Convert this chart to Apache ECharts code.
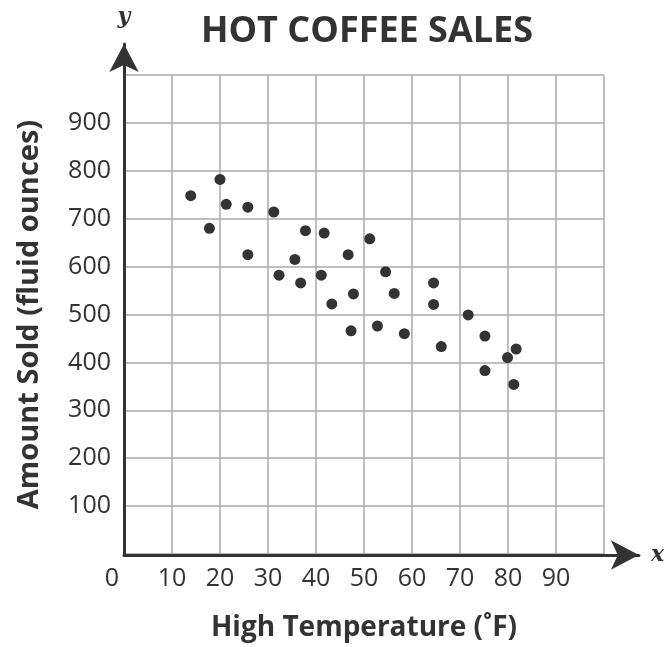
<!DOCTYPE html>
<html>
<head>
<meta charset="utf-8">
<script src="https://cdn.jsdelivr.net/npm/echarts@6/dist/echarts.min.js"></script>
<style>
  html, body { margin: 0; padding: 0; background: #fff; }
  #chart { width: 667px; height: 647px; }
</style>
</head>
<body>
<div id="chart"></div>
<script>
// high temperature (F) and amount sold (fl oz)
const temps = [13.9, 20, 21.3, 25.8, 31.2, 17.8, 37.8, 41.7, 51.2, 25.8,
  46.7, 35.6, 32.3, 41.1, 36.8, 47.8, 43.3, 54.5, 64.5, 56.3,
  64.5, 71.7, 47.3, 52.8, 58.4, 66.1, 75.2, 81.7, 79.9, 75.2, 81.2];
const sold = [748, 782, 730, 724, 714, 680, 675, 670, 658, 625,
  625, 615, 582, 582, 566, 543, 522, 589, 566, 544,
  521, 499, 466, 476, 460, 433, 455, 428, 410, 383, 354];
const xTicks = [0, 10, 20, 30, 40, 50, 60, 70, 80, 90];
const yTicks = [100, 200, 300, 400, 500, 600, 700, 800, 900];

const points = temps.map((t, i) => [t, sold[i]]);
const ink = "#333";
const font = "Open Sans";

const myChart = echarts.init(document.getElementById("chart"));
myChart.setOption({
  animation: false,
  title: {
    text: "HOT COFFEE SALES",
    left: 362,
    top: 9,
    textAlign: "center",
    textStyle: { color: ink, fontFamily: font, fontWeight: "bold", fontSize: 36 },
  },
  grid: [
    { left: 124, top: 75, width: 480, height: 480 },
    // bigger grid only for the arrow axes
    { left: 124, top: 44, right: 27, bottom: 92 },
  ],
  xAxis: [
    {
      gridIndex: 0,
      type: "value",
      min: 0,
      max: 100,
      interval: 10,
      name: "High Temperature (˚F)",
      nameLocation: "middle",
      nameGap: 60,
      nameTextStyle: { color: ink, fontFamily: font, fontWeight: "bold", fontSize: 28 },
      axisLine: { show: false },
      axisTick: { show: false },
      splitLine: { show: true, lineStyle: { color: "#aaa", width: 1.5 } },
      axisLabel: {
        color: ink,
        fontFamily: font,
        fontSize: 25,
        margin: 12,
        formatter: (v) => (v === 0 ? "{z|0}" : xTicks.includes(v) ? String(v) : ""),
        rich: { z: { color: ink, fontFamily: font, fontSize: 25, padding: [0, 24, 6, 0] } },
      },
    },
    {
      gridIndex: 1,
      type: "value",
      min: 0,
      max: 1,
      name: "x",
      nameGap: 12,
      nameTextStyle: { color: ink, fontFamily: "DejaVu Serif", fontStyle: "italic", fontWeight: "bold", fontSize: 22 },
      axisLine: { show: true, symbol: ["none", "arrow"], symbolSize: [22, 28], lineStyle: { color: ink, width: 3 } },
      axisTick: { show: false },
      axisLabel: { show: false },
      splitLine: { show: false },
    },
  ],
  yAxis: [
    {
      gridIndex: 0,
      type: "value",
      min: 0,
      max: 1000,
      interval: 100,
      name: "Amount Sold (fluid ounces)",
      nameLocation: "middle",
      nameGap: 80,
      nameTextStyle: { color: ink, fontFamily: font, fontWeight: "bold", fontSize: 29 },
      axisLine: { show: false },
      axisTick: { show: false },
      splitLine: { show: true, lineStyle: { color: "#aaa", width: 1.5 } },
      axisLabel: {
        color: ink,
        fontFamily: font,
        fontSize: 25,
        margin: 13,
        formatter: (v) => (yTicks.includes(v) ? String(v) : ""),
      },
    },
    {
      gridIndex: 1,
      type: "value",
      min: 0,
      max: 1,
      name: "y",
      nameGap: 16,
      nameTextStyle: { color: ink, fontFamily: "DejaVu Serif", fontStyle: "italic", fontWeight: "bold", fontSize: 22 },
      axisLine: { show: true, symbol: ["none", "arrow"], symbolSize: [22, 28], lineStyle: { color: ink, width: 3 } },
      axisTick: { show: false },
      axisLabel: { show: false },
      splitLine: { show: false },
    },
  ],
  series: [
    {
      type: "scatter",
      xAxisIndex: 0,
      yAxisIndex: 0,
      symbol: "circle",
      symbolSize: 11,
      itemStyle: { color: ink, opacity: 1 },
      data: points,
      z: 5,
    },
  ],
});
</script>
</body>
</html>
